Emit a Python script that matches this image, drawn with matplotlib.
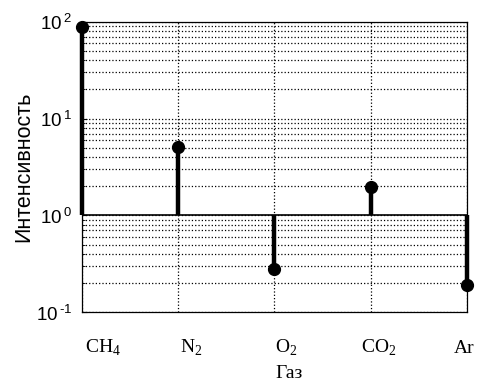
import math
import matplotlib.pyplot as plt
from matplotlib.ticker import FixedLocator, FuncFormatter
import matplotlib.transforms as mtransforms

gases = ['CH$_4$', 'N$_2$', 'O$_2$', 'CO$_2$', 'Ar']
x = [1, 2, 3, 4, 5]
intensity = [88, 5.1, 0.28, 1.96, 0.19]
# left edge of each gas label, in data units (labels are not centred in the original)
label_x = [1.03, 2.02, 3.01, 3.90, 4.86]

plt.rcParams['mathtext.fontset'] = 'custom'
plt.rcParams['mathtext.rm'] = 'Liberation Serif'
plt.rcParams['mathtext.sf'] = 'Liberation Sans'


def pow_label(v, pos):
    e = round(math.log10(v))
    s = str(e).replace('-', '\u2010')
    return '$\\mathsf{10}^{\\mathsf{\\,%s}}$' % s


fig = plt.figure(figsize=(4.84, 3.83), dpi=100)
ax = fig.add_axes([0.169, 0.185, 0.796, 0.758])

ax.set_yscale('log')
ax.set_ylim(0.1, 100)
ax.set_xlim(1, 5)

ax.grid(True, which='major', linestyle=':', color='k', linewidth=0.9)
ax.grid(True, which='minor', axis='y', linestyle=':', color='k', linewidth=0.9)
ax.set_axisbelow(True)

markers, stems, base = ax.stem(x, intensity, bottom=1, linefmt='k-', markerfmt='ko', basefmt='k-')
plt.setp(stems, linewidth=3.2)
stems.set_clip_on(False)
plt.setp(markers, markersize=8.5, clip_on=False, zorder=5)
plt.setp(base, linewidth=1.2)
base.set_xdata([1, 5])

ax.set_xticks(x)
ax.set_xticklabels([])
ax.tick_params(axis='x', direction='in', length=0)
ax.yaxis.set_major_locator(FixedLocator([0.1, 1, 10, 100]))
ax.yaxis.set_major_formatter(FuncFormatter(pow_label))
ax.tick_params(axis='y', which='both', direction='in', labelsize=13.5, pad=7)

trans = mtransforms.blended_transform_factory(ax.transData, fig.transFigure)
for lx, g in zip(label_x, gases):
    ax.text(lx, 1 - 353 / 383, g, transform=trans, ha='left', va='baseline',
            fontfamily='Liberation Serif', fontsize=14)
ax.text(3.15, 1 - 378 / 383, 'Газ', transform=trans, ha='center', va='baseline',
        fontfamily='Liberation Serif', fontsize=14)

ax.set_ylabel('Интенсивность', fontfamily='Liberation Sans', fontsize=15.5, labelpad=1)

for s in ax.spines.values():
    s.set_linewidth(0.9)

plt.savefig('out.png', dpi=100)
